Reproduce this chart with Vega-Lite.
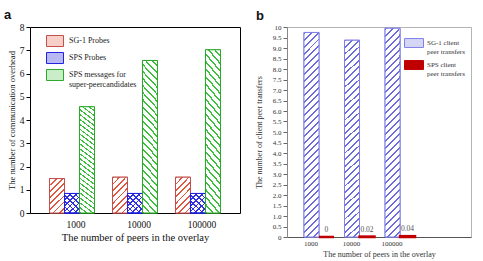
{
  "$schema": "https://vega.github.io/schema/vega-lite/v6.json",
  "background": "white",
  "padding": {"left": 3, "top": 8, "right": 2, "bottom": 0},
  "bounds": "flush",
  "spacing": 47,
  "datasets": {
    "overhead": [
      {"peers": "1000", "series": "SG-1 Probes", "value": 1.48},
      {"peers": "10000", "series": "SG-1 Probes", "value": 1.54},
      {"peers": "100000", "series": "SG-1 Probes", "value": 1.54},
      {"peers": "1000", "series": "SPS Probes", "value": 0.84},
      {"peers": "10000", "series": "SPS Probes", "value": 0.84},
      {"peers": "100000", "series": "SPS Probes", "value": 0.84},
      {"peers": "1000", "series": "SPS messages for super-peercandidates", "value": 4.57},
      {"peers": "10000", "series": "SPS messages for super-peercandidates", "value": 6.56},
      {"peers": "100000", "series": "SPS messages for super-peercandidates", "value": 7.02}
    ],
    "transfers": [
      {"peers": "1000", "series": "SG-1 client peer transfers", "value": 9.74},
      {"peers": "10000", "series": "SG-1 client peer transfers", "value": 9.37},
      {"peers": "100000", "series": "SG-1 client peer transfers", "value": 9.94},
      {"peers": "1000", "series": "SPS client peer transfers", "value": 0},
      {"peers": "10000", "series": "SPS client peer transfers", "value": 0.02},
      {"peers": "100000", "series": "SPS client peer transfers", "value": 0.04}
    ]
  },
  "resolve": {
    "scale": {"fill": "independent", "stroke": "independent", "x": "independent", "y": "independent", "xOffset": "independent"},
    "legend": {"fill": "independent", "stroke": "independent"}
  },
  "hconcat": [
    {
      "title": {"text": "a", "dx": -26, "offset": 0},
      "width": 210,
      "height": 186,
      "view": {"stroke": "#000000", "strokeWidth": 1},
      "data": {"name": "overhead"},
      "encoding": {
        "x": {
          "field": "peers", "type": "nominal", "sort": ["1000", "10000", "100000"],
          "scale": {"paddingInner": 0.2857, "paddingOuter": 0.31},
          "axis": {"title": "The number of peers in the overlay", "labelAngle": 0, "ticks": false, "tickSize": 0, "domain": false,
                   "labelPadding": 6, "labelOffset": 4, "labelFontSize": 9.5, "titleFontSize": 10.5, "titlePadding": 4,
                   "labelColor": "#111111", "titleColor": "#111111"}
        },
        "xOffset": {"field": "series", "type": "nominal",
                    "scale": {"domain": ["SG-1 Probes", "SPS Probes", "SPS messages for super-peercandidates"]}},
        "y": {
          "field": "value", "type": "quantitative", "stack": null,
          "scale": {"domain": [0, 8], "nice": false},
          "axis": {"title": "The number of communication overhead", "values": [0, 1, 2, 3, 4, 5, 6, 7, 8],
                   "tickSize": 4, "tickColor": "#000000", "domain": false, "labelPadding": 2,
                   "labelFontSize": 9.5, "titleFontSize": 8.5, "titlePadding": 3,
                   "labelColor": "#111111", "titleColor": "#111111"}
        }
      },
      "layer": [
        {
          "mark": {"type": "bar", "strokeWidth": 1},
          "encoding": {
            "fill": {
              "field": "series", "type": "nominal",
              "scale": {"domain": ["SG-1 Probes", "SPS Probes", "SPS messages for super-peercandidates"],
                        "range": ["#f6cfc9", "#b8b8f2", "#c8edc8"]},
              "legend": {"title": null, "orient": "none", "legendX": 16, "legendY": 5, "padding": 0,
                         "symbolType": "M-1,-0.65H1V0.65H-1Z", "symbolSize": 289, "symbolStrokeWidth": 1,
                         "labelFontSize": 8, "labelOffset": 5, "rowPadding": -8, "labelLimit": 200, "labelColor": "#222222",
                         "labelExpr": "datum.label === 'SPS messages for super-peercandidates' ? ['SPS messages for', 'super-peercandidates'] : datum.label"}
            },
            "stroke": {
              "field": "series", "type": "nominal",
              "scale": {"domain": ["SG-1 Probes", "SPS Probes", "SPS messages for super-peercandidates"],
                        "range": ["#c0504d", "#2020e0", "#2aa82a"]},
              "legend": {"title": null, "orient": "none", "legendX": 16, "legendY": 5, "padding": 0,
                         "symbolType": "M-1,-0.65H1V0.65H-1Z", "symbolSize": 289, "symbolStrokeWidth": 1,
                         "labelFontSize": 8, "labelOffset": 5, "rowPadding": -8, "labelLimit": 200, "labelColor": "#222222",
                         "labelExpr": "datum.label === 'SPS messages for super-peercandidates' ? ['SPS messages for', 'super-peercandidates'] : datum.label"}
            }
          }
        },
        {
          "transform": [{"filter": "datum.series === 'SG-1 Probes'"}],
          "mark": {
            "type": "bar", "stroke": "#c0504d", "strokeWidth": 1,
            "fill": {"gradient": "linear", "x1": 0, "y1": 0, "x2": 0.517, "y2": 1.207, "stops": [
              {"offset": 0, "color": "#e2553f"}, {"offset": 0.035, "color": "#e2553f"}, {"offset": 0.035, "color": "#ffffff"}, {"offset": 0.125, "color": "#ffffff"},
              {"offset": 0.125, "color": "#e2553f"}, {"offset": 0.16, "color": "#e2553f"}, {"offset": 0.16, "color": "#ffffff"}, {"offset": 0.25, "color": "#ffffff"},
              {"offset": 0.25, "color": "#e2553f"}, {"offset": 0.285, "color": "#e2553f"}, {"offset": 0.285, "color": "#ffffff"}, {"offset": 0.375, "color": "#ffffff"},
              {"offset": 0.375, "color": "#e2553f"}, {"offset": 0.41, "color": "#e2553f"}, {"offset": 0.41, "color": "#ffffff"}, {"offset": 0.5, "color": "#ffffff"},
              {"offset": 0.5, "color": "#e2553f"}, {"offset": 0.535, "color": "#e2553f"}, {"offset": 0.535, "color": "#ffffff"}, {"offset": 0.625, "color": "#ffffff"},
              {"offset": 0.625, "color": "#e2553f"}, {"offset": 0.66, "color": "#e2553f"}, {"offset": 0.66, "color": "#ffffff"}, {"offset": 0.75, "color": "#ffffff"},
              {"offset": 0.75, "color": "#e2553f"}, {"offset": 0.785, "color": "#e2553f"}, {"offset": 0.785, "color": "#ffffff"}, {"offset": 0.875, "color": "#ffffff"},
              {"offset": 0.875, "color": "#e2553f"}, {"offset": 0.91, "color": "#e2553f"}, {"offset": 0.91, "color": "#ffffff"}, {"offset": 1, "color": "#ffffff"}
            ]}
          }
        },
        {
          "transform": [{"filter": "datum.series === 'SPS Probes'"}],
          "mark": {
            "type": "bar", "stroke": "#2020e0", "strokeWidth": 1,
            "fill": {"gradient": "linear", "x1": 0, "y1": 0, "x2": 0.847, "y2": 1.117, "stops": [
              {"offset": 0, "color": "#3030e0"}, {"offset": 0.047, "color": "#3030e0"}, {"offset": 0.047, "color": "#ffffff"}, {"offset": 0.1667, "color": "#ffffff"},
              {"offset": 0.1667, "color": "#3030e0"}, {"offset": 0.213, "color": "#3030e0"}, {"offset": 0.213, "color": "#ffffff"}, {"offset": 0.3333, "color": "#ffffff"},
              {"offset": 0.3333, "color": "#3030e0"}, {"offset": 0.38, "color": "#3030e0"}, {"offset": 0.38, "color": "#ffffff"}, {"offset": 0.5, "color": "#ffffff"},
              {"offset": 0.5, "color": "#3030e0"}, {"offset": 0.547, "color": "#3030e0"}, {"offset": 0.547, "color": "#ffffff"}, {"offset": 0.6667, "color": "#ffffff"},
              {"offset": 0.6667, "color": "#3030e0"}, {"offset": 0.713, "color": "#3030e0"}, {"offset": 0.713, "color": "#ffffff"}, {"offset": 0.8333, "color": "#ffffff"},
              {"offset": 0.8333, "color": "#3030e0"}, {"offset": 0.88, "color": "#3030e0"}, {"offset": 0.88, "color": "#ffffff"}, {"offset": 1, "color": "#ffffff"}
            ]}
          }
        },
        {
          "transform": [{"filter": "datum.series === 'SPS Probes'"}],
          "mark": {
            "type": "bar", "stroke": "#2020e0", "strokeWidth": 1,
            "fill": {"gradient": "linear", "x1": 0, "y1": 1, "x2": 0.847, "y2": -0.117, "stops": [
              {"offset": 0, "color": "#3030e0"}, {"offset": 0.047, "color": "#3030e0"}, {"offset": 0.047, "color": "rgba(255,255,255,0)"}, {"offset": 0.1667, "color": "rgba(255,255,255,0)"},
              {"offset": 0.1667, "color": "#3030e0"}, {"offset": 0.213, "color": "#3030e0"}, {"offset": 0.213, "color": "rgba(255,255,255,0)"}, {"offset": 0.3333, "color": "rgba(255,255,255,0)"},
              {"offset": 0.3333, "color": "#3030e0"}, {"offset": 0.38, "color": "#3030e0"}, {"offset": 0.38, "color": "rgba(255,255,255,0)"}, {"offset": 0.5, "color": "rgba(255,255,255,0)"},
              {"offset": 0.5, "color": "#3030e0"}, {"offset": 0.547, "color": "#3030e0"}, {"offset": 0.547, "color": "rgba(255,255,255,0)"}, {"offset": 0.6667, "color": "rgba(255,255,255,0)"},
              {"offset": 0.6667, "color": "#3030e0"}, {"offset": 0.713, "color": "#3030e0"}, {"offset": 0.713, "color": "rgba(255,255,255,0)"}, {"offset": 0.8333, "color": "rgba(255,255,255,0)"},
              {"offset": 0.8333, "color": "#3030e0"}, {"offset": 0.88, "color": "#3030e0"}, {"offset": 0.88, "color": "rgba(255,255,255,0)"}, {"offset": 1, "color": "rgba(255,255,255,0)"}
            ]}
          }
        },
        {
          "transform": [{"filter": "datum.series === 'SPS messages for super-peercandidates'"}],
          "mark": {
            "type": "bar", "stroke": "#2aa82a", "strokeWidth": 1,
            "fill": {"gradient": "linear", "x1": 0, "y1": 1, "x2": 0.117, "y2": -0.0945, "stops": [
              {"offset": 0, "color": "#3cbf3c"}, {"offset": 0.012, "color": "#3cbf3c"}, {"offset": 0.012, "color": "#ffffff"}, {"offset": 0.0417, "color": "#ffffff"},
              {"offset": 0.0417, "color": "#3cbf3c"}, {"offset": 0.0537, "color": "#3cbf3c"}, {"offset": 0.0537, "color": "#ffffff"}, {"offset": 0.0833, "color": "#ffffff"},
              {"offset": 0.0833, "color": "#3cbf3c"}, {"offset": 0.0953, "color": "#3cbf3c"}, {"offset": 0.0953, "color": "#ffffff"}, {"offset": 0.125, "color": "#ffffff"},
              {"offset": 0.125, "color": "#3cbf3c"}, {"offset": 0.137, "color": "#3cbf3c"}, {"offset": 0.137, "color": "#ffffff"}, {"offset": 0.1667, "color": "#ffffff"},
              {"offset": 0.1667, "color": "#3cbf3c"}, {"offset": 0.1787, "color": "#3cbf3c"}, {"offset": 0.1787, "color": "#ffffff"}, {"offset": 0.2083, "color": "#ffffff"},
              {"offset": 0.2083, "color": "#3cbf3c"}, {"offset": 0.2203, "color": "#3cbf3c"}, {"offset": 0.2203, "color": "#ffffff"}, {"offset": 0.25, "color": "#ffffff"},
              {"offset": 0.25, "color": "#3cbf3c"}, {"offset": 0.262, "color": "#3cbf3c"}, {"offset": 0.262, "color": "#ffffff"}, {"offset": 0.2917, "color": "#ffffff"},
              {"offset": 0.2917, "color": "#3cbf3c"}, {"offset": 0.3037, "color": "#3cbf3c"}, {"offset": 0.3037, "color": "#ffffff"}, {"offset": 0.3333, "color": "#ffffff"},
              {"offset": 0.3333, "color": "#3cbf3c"}, {"offset": 0.3453, "color": "#3cbf3c"}, {"offset": 0.3453, "color": "#ffffff"}, {"offset": 0.375, "color": "#ffffff"},
              {"offset": 0.375, "color": "#3cbf3c"}, {"offset": 0.387, "color": "#3cbf3c"}, {"offset": 0.387, "color": "#ffffff"}, {"offset": 0.4167, "color": "#ffffff"},
              {"offset": 0.4167, "color": "#3cbf3c"}, {"offset": 0.4287, "color": "#3cbf3c"}, {"offset": 0.4287, "color": "#ffffff"}, {"offset": 0.4583, "color": "#ffffff"},
              {"offset": 0.4583, "color": "#3cbf3c"}, {"offset": 0.4703, "color": "#3cbf3c"}, {"offset": 0.4703, "color": "#ffffff"}, {"offset": 0.5, "color": "#ffffff"},
              {"offset": 0.5, "color": "#3cbf3c"}, {"offset": 0.512, "color": "#3cbf3c"}, {"offset": 0.512, "color": "#ffffff"}, {"offset": 0.5417, "color": "#ffffff"},
              {"offset": 0.5417, "color": "#3cbf3c"}, {"offset": 0.5537, "color": "#3cbf3c"}, {"offset": 0.5537, "color": "#ffffff"}, {"offset": 0.5833, "color": "#ffffff"},
              {"offset": 0.5833, "color": "#3cbf3c"}, {"offset": 0.5953, "color": "#3cbf3c"}, {"offset": 0.5953, "color": "#ffffff"}, {"offset": 0.625, "color": "#ffffff"},
              {"offset": 0.625, "color": "#3cbf3c"}, {"offset": 0.637, "color": "#3cbf3c"}, {"offset": 0.637, "color": "#ffffff"}, {"offset": 0.6667, "color": "#ffffff"},
              {"offset": 0.6667, "color": "#3cbf3c"}, {"offset": 0.6787, "color": "#3cbf3c"}, {"offset": 0.6787, "color": "#ffffff"}, {"offset": 0.7083, "color": "#ffffff"},
              {"offset": 0.7083, "color": "#3cbf3c"}, {"offset": 0.7203, "color": "#3cbf3c"}, {"offset": 0.7203, "color": "#ffffff"}, {"offset": 0.75, "color": "#ffffff"},
              {"offset": 0.75, "color": "#3cbf3c"}, {"offset": 0.762, "color": "#3cbf3c"}, {"offset": 0.762, "color": "#ffffff"}, {"offset": 0.7917, "color": "#ffffff"},
              {"offset": 0.7917, "color": "#3cbf3c"}, {"offset": 0.8037, "color": "#3cbf3c"}, {"offset": 0.8037, "color": "#ffffff"}, {"offset": 0.8333, "color": "#ffffff"},
              {"offset": 0.8333, "color": "#3cbf3c"}, {"offset": 0.8453, "color": "#3cbf3c"}, {"offset": 0.8453, "color": "#ffffff"}, {"offset": 0.875, "color": "#ffffff"},
              {"offset": 0.875, "color": "#3cbf3c"}, {"offset": 0.887, "color": "#3cbf3c"}, {"offset": 0.887, "color": "#ffffff"}, {"offset": 0.9167, "color": "#ffffff"},
              {"offset": 0.9167, "color": "#3cbf3c"}, {"offset": 0.9287, "color": "#3cbf3c"}, {"offset": 0.9287, "color": "#ffffff"}, {"offset": 0.9583, "color": "#ffffff"},
              {"offset": 0.9583, "color": "#3cbf3c"}, {"offset": 0.9703, "color": "#3cbf3c"}, {"offset": 0.9703, "color": "#ffffff"}, {"offset": 1, "color": "#ffffff"}
            ]}
          }
        }
      ]
    },
    {
      "title": {"text": "b", "dx": -31, "offset": 0},
      "width": 184,
      "height": 210,
      "view": {"stroke": "#b4b4b4", "strokeWidth": 1},
      "data": {"name": "transfers"},
      "encoding": {
        "x": {
          "field": "peers", "type": "nominal", "sort": ["1000", "10000", "100000"],
          "scale": {"paddingInner": 0.26, "paddingOuter": 0.9, "align": 0.233},
          "axis": {"title": "The number of peers in the overlay", "labelAngle": 0, "ticks": false, "tickSize": 0,
                   "domain": true, "domainColor": "#555555", "labelPadding": 2, "labelOffset": -8,
                   "labelFontSize": 7, "titleFontSize": 8, "titlePadding": 4,
                   "labelColor": "#333333", "titleColor": "#333333"}
        },
        "xOffset": {"field": "series", "type": "nominal",
                    "scale": {"domain": ["SG-1 client peer transfers", "SPS client peer transfers"]}},
        "y": {
          "field": "value", "type": "quantitative", "stack": null,
          "scale": {"domain": [0, 10], "nice": false},
          "axis": {"title": "The number of client peer transfers",
                   "values": [0, 0.5, 1, 1.5, 2, 2.5, 3, 3.5, 4, 4.5, 5, 5.5, 6, 6.5, 7, 7.5, 8, 8.5, 9, 9.5, 10],
                   "labelExpr": "datum.value == 0 || datum.value == 10 ? '' + datum.value : format(datum.value, '.1f')",
                   "tickSize": 4, "tickColor": "#666666", "domainColor": "#888888", "labelPadding": 2,
                   "labelFontSize": 7, "titleFontSize": 8, "titlePadding": 9,
                   "labelColor": "#333333", "titleColor": "#333333"}
        }
      },
      "layer": [
        {
          "mark": {"type": "bar", "strokeWidth": 1},
          "encoding": {
            "fill": {
              "field": "series", "type": "nominal",
              "scale": {"domain": ["SG-1 client peer transfers", "SPS client peer transfers"], "range": ["#d5d5f4", "#c00000"]},
              "legend": {"title": null, "orient": "none", "legendX": 117, "legendY": 6, "padding": 0,
                         "symbolType": "M-1,-0.47H1V0.47H-1Z", "symbolSize": 361, "symbolStrokeWidth": 1,
                         "labelFontSize": 7, "labelOffset": 3, "rowPadding": -1, "labelColor": "#333333",
                         "labelExpr": "datum.label === 'SG-1 client peer transfers' ? ['SG-1 client', 'peer transfers'] : ['SPS client', 'peer transfers']"}
            },
            "stroke": {
              "field": "series", "type": "nominal",
              "scale": {"domain": ["SG-1 client peer transfers", "SPS client peer transfers"], "range": ["#8080e8", "#c00000"]},
              "legend": {"title": null, "orient": "none", "legendX": 117, "legendY": 6, "padding": 0,
                         "symbolType": "M-1,-0.47H1V0.47H-1Z", "symbolSize": 361, "symbolStrokeWidth": 1,
                         "labelFontSize": 7, "labelOffset": 3, "rowPadding": -1, "labelColor": "#333333",
                         "labelExpr": "datum.label === 'SG-1 client peer transfers' ? ['SG-1 client', 'peer transfers'] : ['SPS client', 'peer transfers']"}
            }
          }
        },
        {
          "transform": [{"filter": "datum.series === 'SG-1 client peer transfers'"}],
          "mark": {
            "type": "bar", "stroke": "#8080e8", "strokeWidth": 1,
            "fill": {"gradient": "linear", "x1": 0, "y1": 0, "x2": 0.0785, "y2": 1.0677, "stops": [
              {"offset": 0, "color": "#6a6ad8"}, {"offset": 0.009, "color": "#6a6ad8"}, {"offset": 0.009, "color": "#ffffff"}, {"offset": 0.03125, "color": "#ffffff"},
              {"offset": 0.03125, "color": "#6a6ad8"}, {"offset": 0.04025, "color": "#6a6ad8"}, {"offset": 0.04025, "color": "#ffffff"}, {"offset": 0.0625, "color": "#ffffff"},
              {"offset": 0.0625, "color": "#6a6ad8"}, {"offset": 0.0715, "color": "#6a6ad8"}, {"offset": 0.0715, "color": "#ffffff"}, {"offset": 0.09375, "color": "#ffffff"},
              {"offset": 0.09375, "color": "#6a6ad8"}, {"offset": 0.10275, "color": "#6a6ad8"}, {"offset": 0.10275, "color": "#ffffff"}, {"offset": 0.125, "color": "#ffffff"},
              {"offset": 0.125, "color": "#6a6ad8"}, {"offset": 0.134, "color": "#6a6ad8"}, {"offset": 0.134, "color": "#ffffff"}, {"offset": 0.15625, "color": "#ffffff"},
              {"offset": 0.15625, "color": "#6a6ad8"}, {"offset": 0.16525, "color": "#6a6ad8"}, {"offset": 0.16525, "color": "#ffffff"}, {"offset": 0.1875, "color": "#ffffff"},
              {"offset": 0.1875, "color": "#6a6ad8"}, {"offset": 0.1965, "color": "#6a6ad8"}, {"offset": 0.1965, "color": "#ffffff"}, {"offset": 0.21875, "color": "#ffffff"},
              {"offset": 0.21875, "color": "#6a6ad8"}, {"offset": 0.22775, "color": "#6a6ad8"}, {"offset": 0.22775, "color": "#ffffff"}, {"offset": 0.25, "color": "#ffffff"},
              {"offset": 0.25, "color": "#6a6ad8"}, {"offset": 0.259, "color": "#6a6ad8"}, {"offset": 0.259, "color": "#ffffff"}, {"offset": 0.28125, "color": "#ffffff"},
              {"offset": 0.28125, "color": "#6a6ad8"}, {"offset": 0.29025, "color": "#6a6ad8"}, {"offset": 0.29025, "color": "#ffffff"}, {"offset": 0.3125, "color": "#ffffff"},
              {"offset": 0.3125, "color": "#6a6ad8"}, {"offset": 0.3215, "color": "#6a6ad8"}, {"offset": 0.3215, "color": "#ffffff"}, {"offset": 0.34375, "color": "#ffffff"},
              {"offset": 0.34375, "color": "#6a6ad8"}, {"offset": 0.35275, "color": "#6a6ad8"}, {"offset": 0.35275, "color": "#ffffff"}, {"offset": 0.375, "color": "#ffffff"},
              {"offset": 0.375, "color": "#6a6ad8"}, {"offset": 0.384, "color": "#6a6ad8"}, {"offset": 0.384, "color": "#ffffff"}, {"offset": 0.40625, "color": "#ffffff"},
              {"offset": 0.40625, "color": "#6a6ad8"}, {"offset": 0.41525, "color": "#6a6ad8"}, {"offset": 0.41525, "color": "#ffffff"}, {"offset": 0.4375, "color": "#ffffff"},
              {"offset": 0.4375, "color": "#6a6ad8"}, {"offset": 0.4465, "color": "#6a6ad8"}, {"offset": 0.4465, "color": "#ffffff"}, {"offset": 0.46875, "color": "#ffffff"},
              {"offset": 0.46875, "color": "#6a6ad8"}, {"offset": 0.47775, "color": "#6a6ad8"}, {"offset": 0.47775, "color": "#ffffff"}, {"offset": 0.5, "color": "#ffffff"},
              {"offset": 0.5, "color": "#6a6ad8"}, {"offset": 0.509, "color": "#6a6ad8"}, {"offset": 0.509, "color": "#ffffff"}, {"offset": 0.53125, "color": "#ffffff"},
              {"offset": 0.53125, "color": "#6a6ad8"}, {"offset": 0.54025, "color": "#6a6ad8"}, {"offset": 0.54025, "color": "#ffffff"}, {"offset": 0.5625, "color": "#ffffff"},
              {"offset": 0.5625, "color": "#6a6ad8"}, {"offset": 0.5715, "color": "#6a6ad8"}, {"offset": 0.5715, "color": "#ffffff"}, {"offset": 0.59375, "color": "#ffffff"},
              {"offset": 0.59375, "color": "#6a6ad8"}, {"offset": 0.60275, "color": "#6a6ad8"}, {"offset": 0.60275, "color": "#ffffff"}, {"offset": 0.625, "color": "#ffffff"},
              {"offset": 0.625, "color": "#6a6ad8"}, {"offset": 0.634, "color": "#6a6ad8"}, {"offset": 0.634, "color": "#ffffff"}, {"offset": 0.65625, "color": "#ffffff"},
              {"offset": 0.65625, "color": "#6a6ad8"}, {"offset": 0.66525, "color": "#6a6ad8"}, {"offset": 0.66525, "color": "#ffffff"}, {"offset": 0.6875, "color": "#ffffff"},
              {"offset": 0.6875, "color": "#6a6ad8"}, {"offset": 0.6965, "color": "#6a6ad8"}, {"offset": 0.6965, "color": "#ffffff"}, {"offset": 0.71875, "color": "#ffffff"},
              {"offset": 0.71875, "color": "#6a6ad8"}, {"offset": 0.72775, "color": "#6a6ad8"}, {"offset": 0.72775, "color": "#ffffff"}, {"offset": 0.75, "color": "#ffffff"},
              {"offset": 0.75, "color": "#6a6ad8"}, {"offset": 0.759, "color": "#6a6ad8"}, {"offset": 0.759, "color": "#ffffff"}, {"offset": 0.78125, "color": "#ffffff"},
              {"offset": 0.78125, "color": "#6a6ad8"}, {"offset": 0.79025, "color": "#6a6ad8"}, {"offset": 0.79025, "color": "#ffffff"}, {"offset": 0.8125, "color": "#ffffff"},
              {"offset": 0.8125, "color": "#6a6ad8"}, {"offset": 0.8215, "color": "#6a6ad8"}, {"offset": 0.8215, "color": "#ffffff"}, {"offset": 0.84375, "color": "#ffffff"},
              {"offset": 0.84375, "color": "#6a6ad8"}, {"offset": 0.85275, "color": "#6a6ad8"}, {"offset": 0.85275, "color": "#ffffff"}, {"offset": 0.875, "color": "#ffffff"},
              {"offset": 0.875, "color": "#6a6ad8"}, {"offset": 0.884, "color": "#6a6ad8"}, {"offset": 0.884, "color": "#ffffff"}, {"offset": 0.90625, "color": "#ffffff"},
              {"offset": 0.90625, "color": "#6a6ad8"}, {"offset": 0.91525, "color": "#6a6ad8"}, {"offset": 0.91525, "color": "#ffffff"}, {"offset": 0.9375, "color": "#ffffff"},
              {"offset": 0.9375, "color": "#6a6ad8"}, {"offset": 0.9465, "color": "#6a6ad8"}, {"offset": 0.9465, "color": "#ffffff"}, {"offset": 0.96875, "color": "#ffffff"},
              {"offset": 0.96875, "color": "#6a6ad8"}, {"offset": 0.97775, "color": "#6a6ad8"}, {"offset": 0.97775, "color": "#ffffff"}, {"offset": 1, "color": "#ffffff"}
            ]}
          }
        },
        {
          "transform": [{"filter": "datum.series === 'SPS client peer transfers'"}],
          "mark": {"type": "bar", "fill": "#c00000", "stroke": "#c00000", "strokeWidth": 2.5}
        },
        {
          "transform": [{"filter": "datum.series === 'SPS client peer transfers'"}],
          "mark": {"type": "text", "dy": -7, "fontSize": 7.5, "font": "Liberation Serif", "color": "#555555"},
          "encoding": {"text": {"field": "value", "type": "nominal"}}
        }
      ]
    }
  ],
  "config": {
    "font": "Liberation Serif",
    "axis": {"labelFont": "Liberation Serif", "titleFont": "Liberation Serif", "titleFontWeight": "normal", "grid": false},
    "legend": {"labelFont": "Liberation Serif"},
    "title": {"font": "Liberation Sans", "fontWeight": "bold", "fontSize": 13, "anchor": "start", "frame": "group", "color": "#111111"}
  }
}
